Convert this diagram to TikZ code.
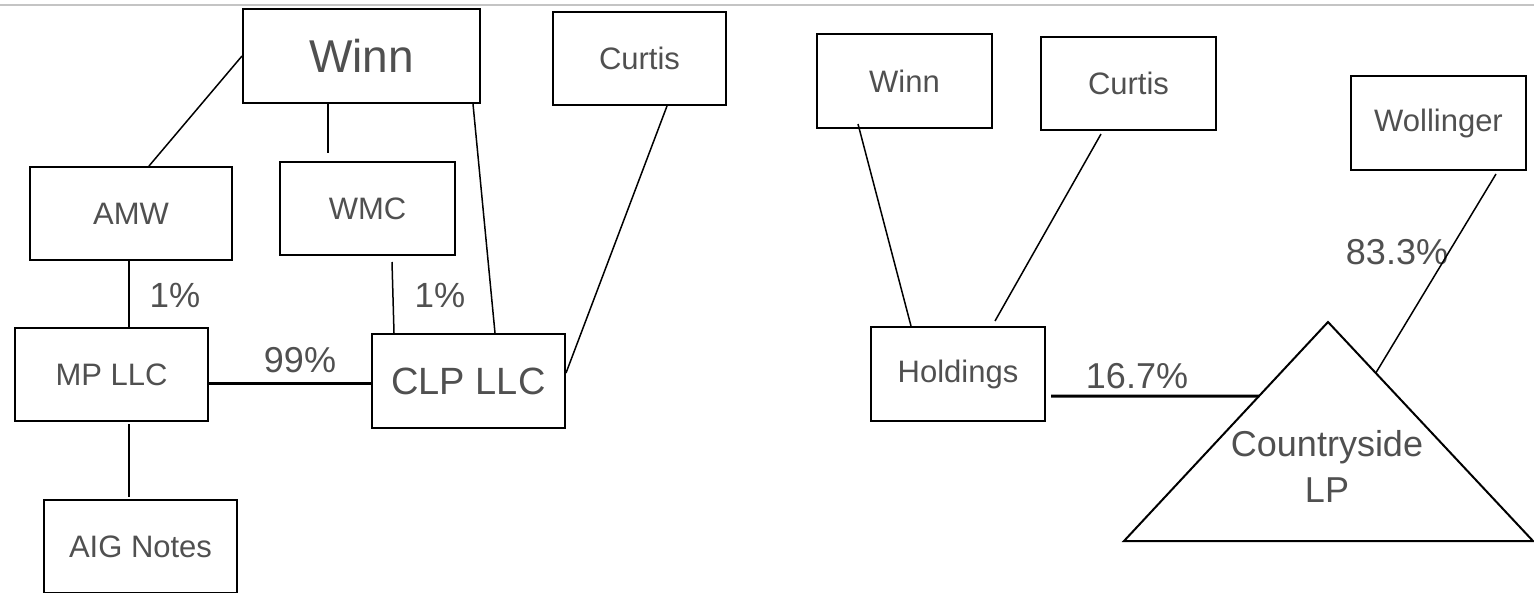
\documentclass[tikz,border=0pt]{standalone}
\usepackage{fontspec}
\setmainfont{Liberation Sans}
\usetikzlibrary{calc}
\definecolor{txt}{HTML}{505050}
\definecolor{topline}{HTML}{C4C4C4}
\tikzset{
  ent/.style={draw=black, line width=2pt, inner sep=0pt, text=txt,
    font=\fontsize{31pt}{37pt}\selectfont},
  pct/.style={inner sep=0pt, text=txt, font=\fontsize{36pt}{43pt}\selectfont},
  link/.style={draw=black, line width=1.5pt},
  thicklink/.style={draw=black, line width=3pt},
}
\begin{document}
\begin{tikzpicture}[x=1pt,y=-1pt]
\useasboundingbox (0,0) rectangle (1534,592);
\draw[topline, line width=2.5pt] (0,5) -- (1534,5);

% left group
\node[ent, minimum width=237pt, minimum height=94pt, font=\fontsize{46pt}{55pt}\selectfont] (winnA) at (361.5,56) {Winn};
\node[ent, minimum width=173pt, minimum height=93pt] (curtisA) at (639.5,58.5) {Curtis};
\node[ent, minimum width=202pt, minimum height=93pt] (amw) at (131,213.5) {AMW};
\node[ent, minimum width=175pt, minimum height=93pt] (wmc) at (367.5,208.5) {WMC};
\node[ent, minimum width=193pt, minimum height=93pt] (mp) at (111.5,374.5) {MP LLC};
\node[ent, minimum width=193pt, minimum height=94pt, font=\fontsize{38pt}{45pt}\selectfont] (clp) at (468.5,381) {CLP LLC};
\node[ent, minimum width=193pt, minimum height=93pt] (aig) at (140.5,546.5) {AIG Notes};

\node[pct, font=\fontsize{35pt}{42pt}\selectfont] (p1a) at (175,295) {1\%};
\node[pct, font=\fontsize{35pt}{42pt}\selectfont] (p1b) at (440,295) {1\%};
\node[pct] (p99) at (300,360) {99\%};

\draw[link] (winnA.west) -- ([xshift=18pt]amw.north);
\draw[link, line width=2.5pt] ([xshift=-33.5pt]winnA.south) -- ([xshift=-39.5pt,yshift=8pt]wmc.north);
\draw[link] ([xshift=-8pt]winnA.south east) -- ([xshift=26.5pt]clp.north);
\draw[link] ([xshift=27.5pt]curtisA.south) -- ([yshift=8pt]clp.east);
\draw[link] ([xshift=-2pt]amw.south) -- ([xshift=17.5pt]mp.north);
\draw[link] ([xshift=24.5pt,yshift=-6pt]wmc.south) -- ([xshift=-74.5pt]clp.north);
\draw[thicklink] ([yshift=-8.5pt]mp.east) -- ([yshift=-2pt]clp.west);
\draw[link] ([xshift=17.5pt,yshift=-2pt]mp.south) -- ([xshift=-11.5pt,yshift=2pt]aig.north);

% right group
\node[ent, minimum width=175pt, minimum height=94pt] (winnB) at (904.5,81) {Winn};
\node[ent, minimum width=175pt, minimum height=93pt] (curtisB) at (1128.5,83.5) {Curtis};
\node[ent, minimum width=175pt, minimum height=94pt] (woll) at (1438.5,123) {Wollinger};
\node[ent, minimum width=174pt, minimum height=94pt] (hold) at (958,374) {Holdings};

\coordinate (ctyTop) at (1328,322);
\coordinate (ctyL) at (1124,541);
\coordinate (ctyR) at (1533,541);
\draw[line width=2pt, line join=miter] (ctyTop) -- (ctyR) -- (ctyL) -- cycle;
\node[inner sep=0pt, text=txt, align=center, font=\fontsize{36pt}{46pt}\selectfont] (cty) at (1327,466) {Countryside\\LP};
\coordinate (ctyHitL) at ($(ctyTop)!0.338!(ctyL)$);
\coordinate (ctyHitR) at ($(ctyTop)!0.233!(ctyR)$);

\node[pct] (p167) at (1137,376) {16.7\%};
\node[pct] (p833) at (1397,252) {83.3\%};

\draw[link] ([xshift=-46.5pt,yshift=5pt]winnB.south) -- ([xshift=-47pt]hold.north);
\draw[link] ([xshift=-27.5pt,yshift=-3pt]curtisB.south) -- ([xshift=37pt,yshift=5pt]hold.north);
\draw[thicklink] ([xshift=5pt,yshift=-22pt]hold.east) -- (ctyHitL);
\draw[link] ([xshift=57.5pt,yshift=-3pt]woll.south) -- (ctyHitR);
\end{tikzpicture}
\end{document}
